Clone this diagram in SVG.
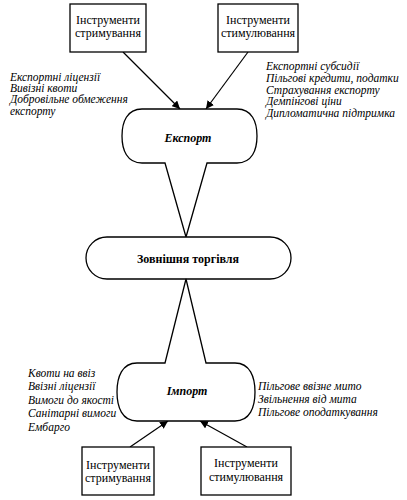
<svg xmlns="http://www.w3.org/2000/svg" width="407" height="500" viewBox="0 0 407 500">
<style>
.sh{fill:#fff;stroke:#000;stroke-width:1.3}
.ln{stroke:#000;stroke-width:1.2;fill:none}
.bx{font-family:"Liberation Serif",serif;font-size:12px;text-anchor:middle}
.tt{font-family:"Liberation Serif",serif;font-size:12px;font-weight:bold;text-anchor:middle}
.it{font-family:"Liberation Serif",serif;font-size:11.5px;font-style:italic}
</style>
<defs>
<marker id="ah" viewBox="0 0 10 10" refX="10" refY="5" markerWidth="8" markerHeight="8" markerUnits="userSpaceOnUse" orient="auto">
<path d="M0,0 L10,5 L0,10 Z" fill="#000"/>
</marker>
</defs>
<rect width="407" height="500" fill="#fff"/>
<g id="connectors">
<line class="ln" x1="123" y1="52" x2="180" y2="109" marker-end="url(#ah)"/>
<line class="ln" x1="248" y1="52" x2="206" y2="109" marker-end="url(#ah)"/>
<line class="ln" x1="130" y1="447" x2="168" y2="421" marker-end="url(#ah)"/>
<line class="ln" x1="247" y1="447" x2="200" y2="421" marker-end="url(#ah)"/>
</g>
<g id="box-tl">
<rect class="sh" x="70" y="4" width="76" height="48"/>
<text class="bx" x="108" y="24">Інструменти</text>
<text class="bx" x="108" y="37">стримування</text>
</g>
<g id="box-tr">
<rect class="sh" x="218" y="4" width="80" height="48"/>
<text class="bx" x="258" y="24">Інструменти</text>
<text class="bx" x="258" y="37">стимулювання</text>
</g>
<g id="export">
<path class="sh" d="M142,109 H237 C252,109 257,122 257,136 C257,150 252,163 237,163 H207 L186,237 L165,163 H142 C127,163 122,150 122,136 C122,122 127,109 142,109 Z"/>
<text class="tt" x="188" y="142" font-style="italic">Експорт</text>
</g>
<g id="trade">
<rect class="sh" x="86" y="237" width="205" height="42" rx="21" ry="21"/>
<text class="tt" x="188" y="263">Зовнішня торгівля</text>
</g>
<g id="import">
<path class="sh" d="M186,279 L206,363 H235 C250,363 255,377 255,392 C255,407 250,421 235,421 H137 C122,421 117,407 117,392 C117,377 122,363 137,363 H165 Z"/>
<text class="tt" x="187" y="395" font-style="italic">Імпорт</text>
</g>
<g id="box-bl">
<rect class="sh" x="82" y="447" width="72" height="48"/>
<text class="bx" x="118" y="469">Інструменти</text>
<text class="bx" x="118" y="482">стримування</text>
</g>
<g id="box-br">
<rect class="sh" x="201" y="447" width="90" height="48"/>
<text class="bx" x="246" y="467">Інструменти</text>
<text class="bx" x="246" y="481">стимулювання</text>
</g>
<g id="list-tl" class="it">
<text x="10" y="81">Експортні ліцензії</text>
<text x="10" y="92">Вивізні квоти</text>
<text x="10" y="103">Добровільне обмеження</text>
<text x="10" y="115">експорту</text>
</g>
<g id="list-tr" class="it">
<text x="266" y="70">Експортні субсидії</text>
<text x="266" y="82">Пільгові кредити, податки</text>
<text x="266" y="94">Страхування експорту</text>
<text x="266" y="105">Демпінгові ціни</text>
<text x="266" y="117">Дипломатична підтримка</text>
</g>
<g id="list-bl" class="it">
<text x="28" y="377">Квоти на ввіз</text>
<text x="28" y="390">Ввізні ліцензії</text>
<text x="28" y="404">Вимоги до якості</text>
<text x="28" y="417">Санітарні вимоги</text>
<text x="28" y="431">Ембарго</text>
</g>
<g id="list-br" class="it">
<text x="258" y="390">Пільгове ввізне мито</text>
<text x="258" y="403">Звільнення від мита</text>
<text x="258" y="416">Пільгове оподаткування</text>
</g>
</svg>
